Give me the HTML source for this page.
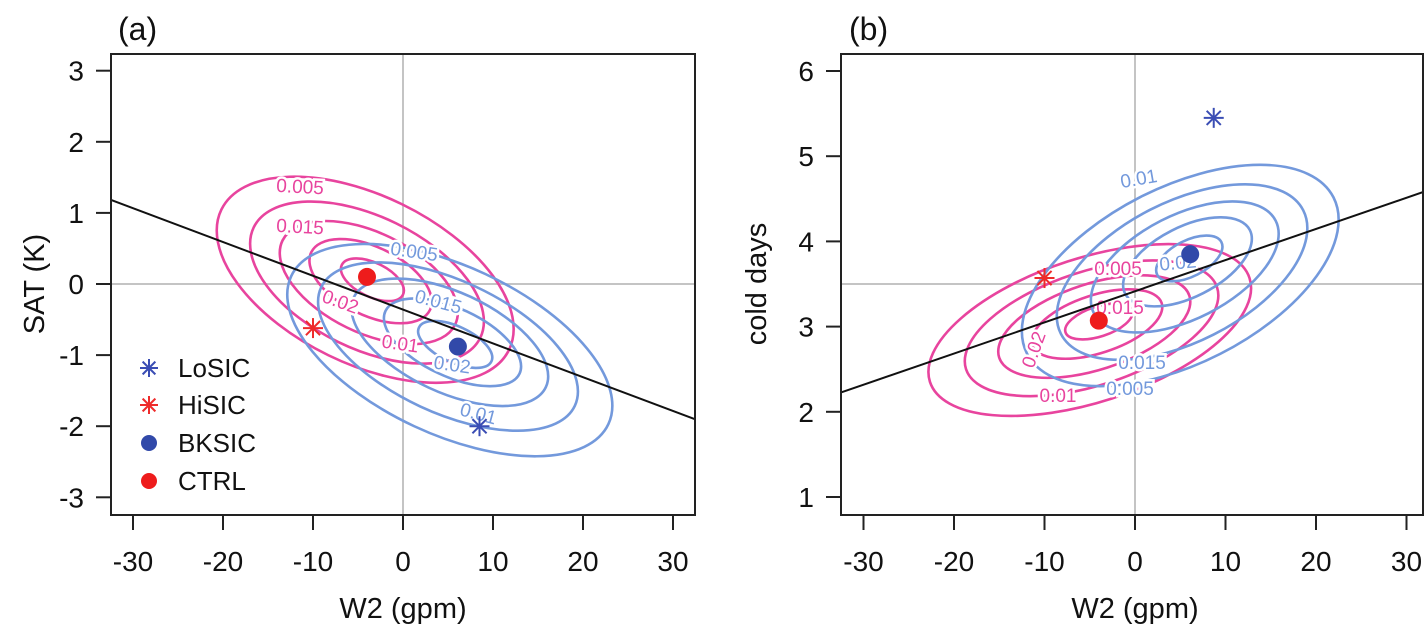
<!DOCTYPE html>
<html><head><meta charset="utf-8"><style>
body{margin:0;background:#fff;}
svg{display:block;font-family:"Liberation Sans",Arial,sans-serif;}
</style></head><body>
<svg id="fig" width="1425" height="634" viewBox="0 0 1425 634"></svg>
<script>
// ---- data ----
const xTicks=[-30,-20,-10,0,10,20,30];
const yTicksA=[-3,-2,-1,0,1,2,3];
const yTicksB=[1,2,3,4,5,6];
const levels=[0.005,0.01,0.015,0.02,0.025];
const aLoSIC=[8.5,-2.0], aHiSIC=[-10,-0.62], aBKSIC=[6.1,-0.88], aCTRL=[-4,0.1];
const bLoSIC=[8.7,5.45], bHiSIC=[-10,3.57], bBKSIC=[6.1,3.85], bCTRL=[-4,3.07];
const aLine=[[-32.4,1.18],[32.4,-1.9]];
const bLine=[[-32.4,2.23],[32.4,4.6]];
const aPinkCx=[-4.2,-4.0,-3.8,-3.6,-3.4], aPinkCy=[0.06,0.02,0.02,0.04,0.06];
const aBlueCx=[5.2,5.0,5.2,5.5,5.8], aBlueCy=[-0.93,-0.88,-0.82,-0.82,-0.85];
const bPinkCx=[-5,-4.8,-4.5,-4.2,-4.0], bPinkCy=[2.96,2.98,3.0,3.03,3.06];
const bBlueCx=[5,5.2,5.5,5.8,6.0], bBlueCy=[3.6,3.64,3.7,3.76,3.8];

const NS="http://www.w3.org/2000/svg";
const svg=document.getElementById('fig');
function el(t,a,p){const e=document.createElementNS(NS,t);for(const k in a)e.setAttribute(k,a[k]);(p||svg).appendChild(e);return e;}

const panels=[
 {id:'a',x0:111,x1:695,y0:54,y1:515,xz:403,xs:9.0,yz:284,ys:71.1,yv0:0,yt:yTicksA,ylab:'SAT (K)',ylx:44,title:'(a)',tx:118,
  pts:[aLoSIC,aHiSIC,aBKSIC,aCTRL],line:aLine,gx:0,gy:0,
  pink:{cx:aPinkCx,cy:aPinkCy,a:[160,126,96,66,34],b:[84,66,50,34,17],ang:26},
  blue:{cx:aBlueCx,cy:aBlueCy,a:[175,140,106,74,40],b:[84,66,50,34,18],ang:25},
  labs:[['0.005',300,188,'p',3],['0.015',300,228,'p',3],['0.02',340,303,'p',20],['0.01',400,345,'p',8],['0.005',414,253,'b',8],['0.015',438,303,'b',15],['0.02',452,366,'b',8],['0.01',478,415,'b',15]]},
 {id:'b',x0:841,x1:1423,y0:54,y1:515,xz:1135,xs:9.05,yz:284,ys:85.2,yv0:3.5,yt:yTicksB,ylab:'cold days',ylx:766,title:'(b)',tx:849,
  pts:[bLoSIC,bHiSIC,bBKSIC,bCTRL],line:bLine,gx:0,gy:3.5,
  pink:{cx:bPinkCx,cy:bPinkCy,a:[168,132,100,68,35],b:[72,57,43,29,15],ang:-18},
  blue:{cx:bBlueCx,cy:bBlueCy,a:[172,136,102,70,36],b:[88,70,52,35,18],ang:-27},
  labs:[['0.01',1139,180,'b',-10],['0.02',1178,264,'b',-5],['0.005',1118,270,'p',0],['0.015',1120,309,'p',0],['0.015',1142,364,'b',0],['0.005',1130,390,'b',0],['0.01',1058,397,'p',0],['0.02',1035,350,'p',-70]]}
];
const pinkC='#e8449e', blueC='#7399dc';

panels.forEach(P=>{
  const g=el('g',{});
  
  
  const X=v=>P.xz+v*P.xs, Y=v=>P.yz-(v-P.yv0)*P.ys;
  const defs=el('defs',{},g);
  const cp=el('clipPath',{id:'clip'+P.id},defs);
  el('rect',{x:P.x0,y:P.y0,width:P.x1-P.x0,height:P.y1-P.y0},cp);
  const gl1=el('line',{x1:X(P.gx),x2:X(P.gx),y1:P.y0,y2:P.y1,stroke:'#c4c4c4','stroke-width':2},g);
  
  
  const gl2=el('line',{x1:P.x0,x2:P.x1,y1:Y(P.gy),y2:Y(P.gy),stroke:'#c4c4c4','stroke-width':2},g);
  
  
  const cg=el('g',{'clip-path':'url(#clip'+P.id+')'},g);
  [['pink',pinkC],['blue',blueC]].forEach(([k,col])=>{
    const C=P[k];
    levels.forEach((lv,i)=>{
      const e=el('ellipse',{cx:X(C.cx[i]),cy:Y(C.cy[i]),rx:C.a[i],ry:C.b[i],fill:'none',stroke:col,'stroke-width':2.6,transform:`rotate(${C.ang} ${X(C.cx[i])} ${Y(C.cy[i])})`},cg);
      
      
    });
  });
  P.labs.forEach(l=>{
    const t=el('text',{x:l[1],y:l[2],'font-size':19,fill:l[3]=='p'?pinkC:blueC,'text-anchor':'middle','dominant-baseline':'middle',stroke:'#fff','stroke-width':5,'paint-order':'stroke',transform:`rotate(${l[4]} ${l[1]} ${l[2]})`},cg);
    t.textContent=l[0];
    
    
  });
  const rl=el('line',{x1:X(P.line[0][0]),y1:Y(P.line[0][1]),x2:X(P.line[1][0]),y2:Y(P.line[1][1]),stroke:'#111','stroke-width':2},cg);
  
  
  const star=(x,y,c,name)=>{const s=el('g',{stroke:c,'stroke-width':2},g);
    
    
    for(let k=0;k<4;k++){const a=k*Math.PI/4;el('line',{x1:x-10*Math.cos(a),y1:y-10*Math.sin(a),x2:x+10*Math.cos(a),y2:y+10*Math.sin(a)},s);} };
  star(X(P.pts[0][0]),Y(P.pts[0][1]),'#3a4db4','losic-marker');
  star(X(P.pts[1][0]),Y(P.pts[1][1]),'#ee2b2b','hisic-marker');
  const d1=el('circle',{cx:X(P.pts[2][0]),cy:Y(P.pts[2][1]),r:9,fill:'#3149a9'},g);
  
  
  const d2=el('circle',{cx:X(P.pts[3][0]),cy:Y(P.pts[3][1]),r:9,fill:'#ee1c1c'},g);
  
  
  const bx=el('rect',{x:P.x0,y:P.y0,width:P.x1-P.x0,height:P.y1-P.y0,fill:'none',stroke:'#222','stroke-width':2},g);
  
  
  xTicks.forEach(v=>{
    el('line',{x1:X(v),x2:X(v),y1:P.y1,y2:P.y1+15,stroke:'#222','stroke-width':2},g);
    const t=el('text',{x:X(v),y:571,'font-size':28,'text-anchor':'middle',fill:'#111'},g);
    t.textContent=v;
    
    
  });
  P.yt.forEach(v=>{
    el('line',{x1:P.x0-15,x2:P.x0,y1:Y(v),y2:Y(v),stroke:'#222','stroke-width':2},g);
    const t=el('text',{x:P.x0-27,y:Y(v)+10,'font-size':28,'text-anchor':'end',fill:'#111'},g);
    t.textContent=v;
    
    
  });
  const xt=el('text',{x:X(0),y:618,'font-size':29,'text-anchor':'middle',fill:'#111'},g);
  xt.textContent='W2 (gpm)';
  
  
  const yt=el('text',{x:P.ylx,y:284,'font-size':29,'text-anchor':'middle',fill:'#111',transform:`rotate(-90 ${P.ylx} 284)`},g);
  yt.textContent=P.ylab;
  
  
  const tt=el('text',{x:P.tx,y:40,'font-size':32,fill:'#111'},g);
  tt.textContent=P.title;
  
  
});

const legNames=['LoSIC','HiSIC','BKSIC','CTRL'];
const legCols=['#3a4db4','#ee2b2b','#3149a9','#ee1c1c'];
const legY=[368,405,443,481];
const lg=el('g',{});


legNames.forEach((n,i)=>{
  const e=el('g',{},lg);
  
  
  const cx=149, cy=legY[i];
  if(i<2){for(let k=0;k<4;k++){const a=k*Math.PI/4;el('line',{x1:cx-9*Math.cos(a),y1:cy-9*Math.sin(a),x2:cx+9*Math.cos(a),y2:cy+9*Math.sin(a),stroke:legCols[i],'stroke-width':2},e);}}
  else el('circle',{cx:cx,cy:cy,r:8,fill:legCols[i]},e);
  const t=el('text',{x:178,y:cy+9,'font-size':26,fill:'#111'},e);
  t.textContent=n;
});
</script>
</body></html>
